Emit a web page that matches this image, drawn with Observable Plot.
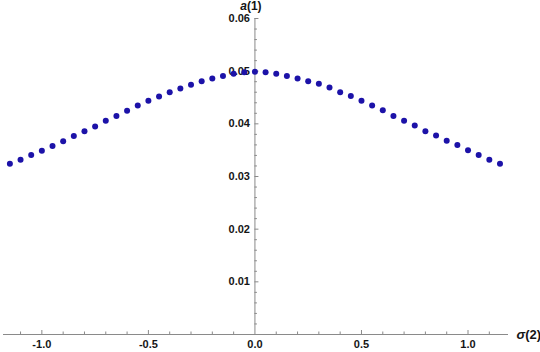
<!DOCTYPE html>
<html><head><meta charset="utf-8">
<script src="https://cdn.jsdelivr.net/npm/d3@7"></script>
<script src="https://cdn.jsdelivr.net/npm/@observablehq/plot@0.6"></script>
<style>
html,body{margin:0;padding:0;background:#fff;}
#chart svg{display:block;}
</style>
</head><body><div id="chart"></div>
<script>
const sigma = [-1.15,-1.10,-1.05,-1.00,-0.95,-0.90,-0.85,-0.80,-0.75,-0.70,-0.65,-0.60,-0.55,-0.50,-0.45,-0.40,-0.35,-0.30,-0.25,-0.20,-0.15,-0.10,-0.05,0.00,0.05,0.10,0.15,0.20,0.25,0.30,0.35,0.40,0.45,0.50,0.55,0.60,0.65,0.70,0.75,0.80,0.85,0.90,0.95,1.00,1.05,1.10,1.15];
const aValues = [0.0324,0.0332,0.0341,0.0349,0.0358,0.0367,0.0377,0.0386,0.0395,0.0406,0.0415,0.0425,0.0435,0.0444,0.0452,0.0460,0.0467,0.0474,0.0481,0.0486,0.0491,0.0495,0.0498,0.0499,0.0498,0.0495,0.0491,0.0486,0.0481,0.0476,0.0469,0.0460,0.0453,0.0444,0.0435,0.0426,0.0415,0.0406,0.0397,0.0386,0.0378,0.0368,0.0360,0.0350,0.0341,0.0332,0.0324];
const xDomain = [-1.18, 1.19];
const yDomain = [0, 0.06];
const xMajorTicks = [-1.0, -0.5, 0.5, 1.0];
const xMinorTicks = [-1.1,-0.9,-0.8,-0.7,-0.6,-0.4,-0.3,-0.2,-0.1,0.1,0.2,0.3,0.4,0.6,0.7,0.8,0.9,1.1];
const xLabelValues = [-1.0, -0.5, 0.0, 0.5, 1.0];
const xTickLabels = ["-1.0", "-0.5", "0.0", "0.5", "1.0"];
const yMajorTicks = [0.01, 0.02, 0.03, 0.04, 0.05, 0.06];
const yMinorTicks = [0.002,0.004,0.006,0.008,0.012,0.014,0.016,0.018,0.022,0.024,0.026,0.028,0.032,0.034,0.036,0.038,0.042,0.044,0.046,0.048,0.052,0.054,0.056,0.058];
const yTickLabels = ["0.01", "0.02", "0.03", "0.04", "0.05", "0.06"];
const xAxisLabel = "σ(2)";
const yAxisLabel = "a(1)";

const data = sigma.map((s, i) => ({s, a: aValues[i]}));
const axisColor = "#8a8a8a";
const labelColor = "#151515";

const plot = Plot.plot({
  width: 540,
  height: 352,
  marginLeft: 3,
  marginRight: 32,
  marginTop: 18,
  marginBottom: 18,
  style: {fontFamily: "'Liberation Sans', Arial, sans-serif", background: "#fff"},
  x: {domain: xDomain, axis: null},
  y: {domain: yDomain, axis: null},
  marks: [
    Plot.ruleY([0], {stroke: axisColor, strokeWidth: 1}),
    Plot.ruleX([0], {y1: yDomain[0], y2: yDomain[1], stroke: axisColor, strokeWidth: 1}),
    Plot.ruleX(xMajorTicks, {x: d => d, y1: 0, y2: 0, insetTop: -4, stroke: axisColor}),
    Plot.ruleX(xMinorTicks, {x: d => d, y1: 0, y2: 0, insetTop: -2.5, stroke: axisColor}),
    Plot.ruleY(yMajorTicks, {y: d => d, x1: 0, x2: 0, insetRight: -4, stroke: axisColor}),
    Plot.ruleY(yMinorTicks, {y: d => d, x1: 0, x2: 0, insetRight: -2.5, stroke: axisColor}),
    Plot.text(xLabelValues, {x: d => d, y: 0, dy: 10, text: (d, i) => xTickLabels[i], fontSize: 11, fontWeight: "bold", fill: labelColor}),
    Plot.text(yMajorTicks, {x: 0, y: d => d, dx: -5, textAnchor: "end", text: (d, i) => yTickLabels[i], fontSize: 11, fontWeight: "bold", fill: labelColor}),
    Plot.text([yAxisLabel], {x: 0, y: yDomain[1], dx: -4, dy: -12, text: d => d, fontSize: 12, fontWeight: "bold", fill: labelColor}),
    Plot.text([xAxisLabel], {x: xDomain[1], y: 0, dx: 8, dy: 0, textAnchor: "start", text: d => d, fontSize: 13, fontWeight: "bold", fill: labelColor}),
    Plot.dot(data, {x: "s", y: "a", r: 3, fill: "#1c12a8", stroke: "none"})
  ]
});
// italicize the variable letter of each axis label
plot.querySelectorAll("text").forEach(t => {
  const s = t.textContent;
  if (s === xAxisLabel || s === yAxisLabel) {
    const head = s.slice(0, 1), rest = s.slice(1);
    t.textContent = "";
    const t1 = document.createElementNS("http://www.w3.org/2000/svg", "tspan");
    t1.setAttribute("font-style", "italic");
    t1.textContent = head;
    const t2 = document.createElementNS("http://www.w3.org/2000/svg", "tspan");
    t2.textContent = rest;
    t.appendChild(t1); t.appendChild(t2);
  }
});
document.getElementById("chart").appendChild(plot);
</script>
</body></html>
